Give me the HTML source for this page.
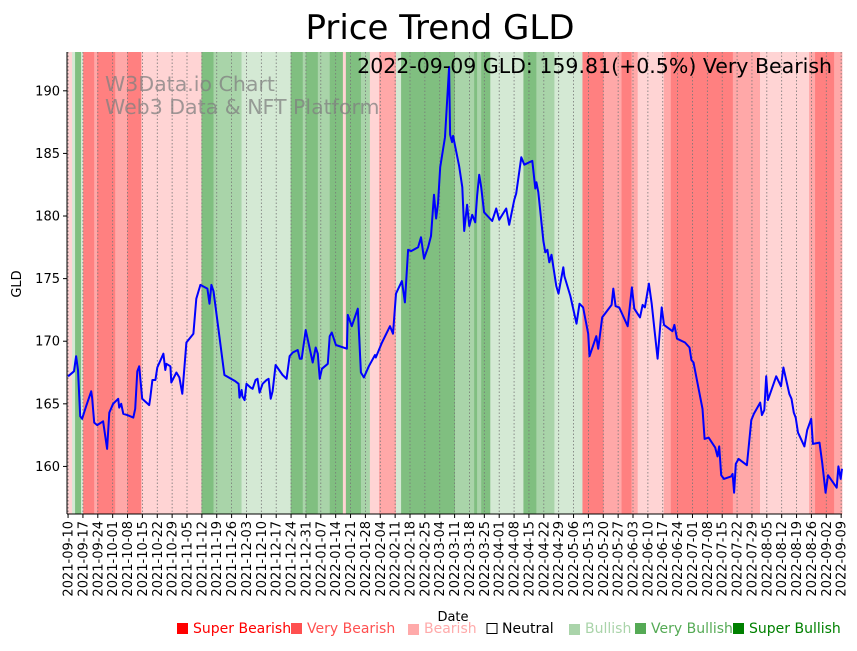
<!DOCTYPE html>
<html><head><meta charset="utf-8"><style>
body{margin:0;background:#fff;}
svg text{font-family:"DejaVu Sans","Liberation Sans",sans-serif;}
</style></head><body>
<svg id="chart" width="857" height="646" viewBox="0 0 857 646" xmlns="http://www.w3.org/2000/svg">
<text x="440" y="39" font-size="34" text-anchor="middle">Price Trend GLD</text>
<g id="bands"></g>
<g id="grid"></g>
<g id="wm">
<text x="105" y="91" font-size="20.5" fill="#808080" fill-opacity="0.75">W3Data.io Chart</text>
<text x="105" y="114" font-size="20.5" fill="#808080" fill-opacity="0.75">Web3 Data &amp; NFT Platform</text>
</g>
<path id="line" fill="none" stroke="#0000ff" stroke-width="2" stroke-linejoin="round"/>
<text x="832" y="73" font-size="20.5" text-anchor="end">2022-09-09 GLD: 159.81(+0.5%) Very Bearish</text>
<g id="axes"></g>
<text transform="translate(21,284) rotate(-90)" font-size="13" text-anchor="middle">GLD</text>
<text x="453" y="621" font-size="13" text-anchor="middle">Date</text>
<g font-size="14">
<g><rect x="177" y="623" width="11" height="11" fill="#ff0000"/><text x="193" y="633" fill="#ff0000">Super Bearish</text></g>
<g><rect x="291" y="623" width="11" height="11" fill="#ff5050"/><text x="307" y="633" fill="#ff5050">Very Bearish</text></g>
<g><rect x="408" y="624" width="11" height="11" fill="#ffaaaa"/><text x="424" y="633" fill="#ffaaaa">Bearish</text></g>
<g><rect x="487" y="623.5" width="10" height="10" fill="none" stroke="#000"/><text x="502" y="633" fill="#000">Neutral</text></g>
<g><rect x="569" y="624" width="11" height="11" fill="#aad4aa"/><text x="585" y="633" fill="#aad4aa">Bullish</text></g>
<g><rect x="635" y="623" width="11" height="11" fill="#55aa55"/><text x="651" y="633" fill="#55aa55">Very Bullish</text></g>
<g><rect x="733" y="623" width="11" height="11" fill="#008000"/><text x="749" y="633" fill="#008000">Super Bullish</text></g>
</g>
</svg>
<script>
const bandStarts=[-0.5,1.9,3.3,6.1,7.1,12.3,13.7,22.2,27.9,34.5,62.8,68.5,81.7,104.8,110.5,111.9,117.6,123.2,129.4,130.8,137.9,142.1,146.4,154.4,156.8,182.2,191.2,192.6,194.5,198.8,214.4,220.5,229,242.2,252.1,260.6,265.3,268.2,280.5,283.8,313,325.8,348.9,351.7,360.7];
const bandLevels=[-1,1,3,1,-3,-2,-3,-2,-3,-1,3,2,1,3,2,3,2,3,-1,3,2,-1,-2,1,3,2,3,2,3,1,3,2,1,-3,-2,-3,-2,-1,-2,-3,-2,-1,-2,-3,-2];
const dayOffsets=[0,2.8,3.8,4.7,5.7,6.6,8.5,10.9,11.3,12.3,13.7,16.5,18.4,19.4,21.2,23.6,24.1,25.0,26.0,27.9,30.7,31.6,32.6,33.5,34.9,38.2,38.7,39.7,41.1,42.0,44.9,45.8,46.3,48.2,48.6,51.0,52.4,53.8,55.7,59.0,60.4,62.3,65.6,66.6,67.5,68.5,70.8,73.6,78.8,80.3,80.7,81.7,82.1,83.1,84.0,85.9,86.9,88.3,89.2,90.2,91.6,93.5,94.4,95.4,96.3,97.7,101.0,102.9,104.3,105.8,108.1,109.1,110.0,111.9,115.2,116.6,117.6,118.5,119.5,122.3,123.2,124.2,126.1,131.3,131.7,133.6,136.4,137.9,139.3,141.6,144.5,144.9,147.8,151.6,153.0,154.4,157.2,158.6,160.1,161.5,164.8,166.2,167.6,169.5,170.9,172.3,173.3,174.2,175.2,177.5,179.4,179.9,180.8,181.3,184.1,185.6,186.5,187.9,188.9,190.3,191.7,192.6,193.6,194.5,195.9,199.7,201.6,203.0,206.3,207.7,210.1,211.0,213.4,214.8,218.6,220.0,220.5,221.4,223.8,224.7,225.7,226.6,227.6,229.9,230.9,233.2,233.7,236.5,239.4,240.8,242.5,244.9,245.5,248.7,249.6,251.5,255.9,256.7,257.8,259.5,263.5,265.5,266.6,269.3,270.5,271.6,273.5,274.8,276.1,277.6,279.5,280.6,284.6,285.5,286.7,290.5,292.6,293.5,294.5,298.7,299.7,301.6,304.7,305.8,306.6,307.5,308.8,312.2,312.9,313.6,314.4,315.7,319.6,321.7,322.9,325.9,326.7,327.8,328.7,329.5,333.4,335.7,336.8,339.6,340.6,341.7,342.6,343.7,346.7,348.0,349.9,350.7,353.8,355.1,356.7,357.8,361.9,362.7,363.8,364.4];
const prices=[167.2,167.6,168.8,167.7,164.0,163.8,164.8,166.0,165.5,163.5,163.3,163.6,161.4,164.3,165.0,165.4,164.7,165.0,164.2,164.1,163.9,164.6,167.6,168.0,165.4,164.9,165.5,166.9,166.9,167.9,169.0,167.7,168.2,168.0,166.7,167.5,167.1,165.8,169.9,170.6,173.4,174.5,174.2,173.0,174.5,174.0,171.0,167.3,166.8,166.6,165.5,166.1,165.6,165.3,166.6,166.3,166.2,166.9,167.0,165.9,166.6,166.9,167.0,165.4,166.0,168.1,167.3,167.0,168.8,169.1,169.3,168.6,168.6,170.9,168.3,169.5,169.0,167.0,167.8,168.2,170.4,170.7,169.7,169.4,172.1,171.2,172.6,167.5,167.1,168.0,168.9,168.7,169.9,171.2,170.6,173.8,174.8,173.1,177.3,177.2,177.5,178.3,176.6,177.5,178.4,181.7,179.8,181.0,183.9,186.3,191.9,186.5,185.9,186.4,184.0,182.3,178.8,180.9,179.2,180.1,179.5,181.6,183.3,182.3,180.3,179.6,180.6,179.7,180.6,179.3,181.3,181.8,184.7,184.1,184.4,182.2,182.7,181.9,178.0,177.1,177.3,176.3,176.9,174.4,173.8,175.9,175.2,173.6,171.4,173.0,172.7,170.6,168.8,170.4,169.4,171.9,172.9,174.2,172.8,172.7,171.2,174.3,172.6,171.9,172.9,172.7,174.6,173.0,170.9,168.6,172.7,171.3,170.8,171.3,170.2,169.9,169.5,168.5,168.3,164.6,162.2,162.3,161.5,160.8,161.6,159.3,159.0,159.2,159.4,157.9,160.2,160.6,160.1,163.7,164.2,165.1,164.1,164.5,167.2,165.3,167.2,166.4,167.9,165.8,165.4,164.3,163.9,162.7,161.6,162.9,163.8,161.8,161.9,160.3,157.9,159.3,158.3,160.0,159.0,159.81];
const yTicks=[160,165,170,175,180,185,190];
const tickDays=[];for(let d=0;d<=364;d+=7)tickDays.push(d);

const NS='http://www.w3.org/2000/svg';
const X0=67,X1=842,Y0=52,Y1=514,DMIN=-0.5,DMAX=364.4,PMIN=156.2,PMAX=193.1;
const xs=d=>X0+(d-DMIN)/(DMAX-DMIN)*(X1-X0);
const ys=p=>Y1-(p-PMIN)/(PMAX-PMIN)*(Y1-Y0);
const colors={'-3':'#ff8080','-2':'#ffa8a8','-1':'#ffd4d4','0':'#ffffff','1':'#d4e9d4','2':'#a9d4a9','3':'#80bf80'};
function mk(t,a,p){const e=document.createElementNS(NS,t);for(const k in a)e.setAttribute(k,a[k]);p.appendChild(e);return e;}
const bg=document.getElementById('bands');
bandStarts.forEach((s,i)=>{const e=i+1<bandStarts.length?bandStarts[i+1]:DMAX;
 const r=mk('rect',{x:xs(s),y:Y0,width:xs(e)-xs(s)+0.3,height:Y1-Y0,fill:colors[bandLevels[i]]},bg);
 
 });
const gg=document.getElementById('grid'),ax=document.getElementById('axes');
function fmt(d){const t=new Date(Date.UTC(2021,8,10)+d*864e5);return t.toISOString().slice(0,10);}
tickDays.forEach(d=>{const x=xs(d);
 const l=mk('line',{x1:x,x2:x,y1:Y0,y2:Y1,stroke:'#777','stroke-width':0.8,'stroke-dasharray':'1.5,2'},gg);
 
 
 mk('line',{x1:x,x2:x,y1:Y1,y2:Y1+4,stroke:'#000'},ax);
 const t=mk('text',{transform:`translate(${x+4.5},${Y1+7}) rotate(-90)`,'font-size':13,'text-anchor':'end'},ax);
 t.textContent=fmt(d);
 
 });
yTicks.forEach(v=>{const y=ys(v);
 mk('line',{x1:X0-4,x2:X0,y1:y,y2:y,stroke:'#000'},ax);
 const t=mk('text',{x:X0-7,y:y+4.5,'font-size':13,'text-anchor':'end'},ax);
 t.textContent=v;
 
 });
mk('line',{x1:X0,x2:X0,y1:Y0,y2:Y1,stroke:'#000','stroke-width':1},ax);
mk('line',{x1:X0,x2:X1,y1:Y1,y2:Y1,stroke:'#000','stroke-width':1},ax);
document.getElementById('line').setAttribute('d',dayOffsets.map((d,i)=>(i?'L':'M')+xs(d).toFixed(1)+','+ys(prices[i]).toFixed(1)).join(''));
</script>
</body></html>
